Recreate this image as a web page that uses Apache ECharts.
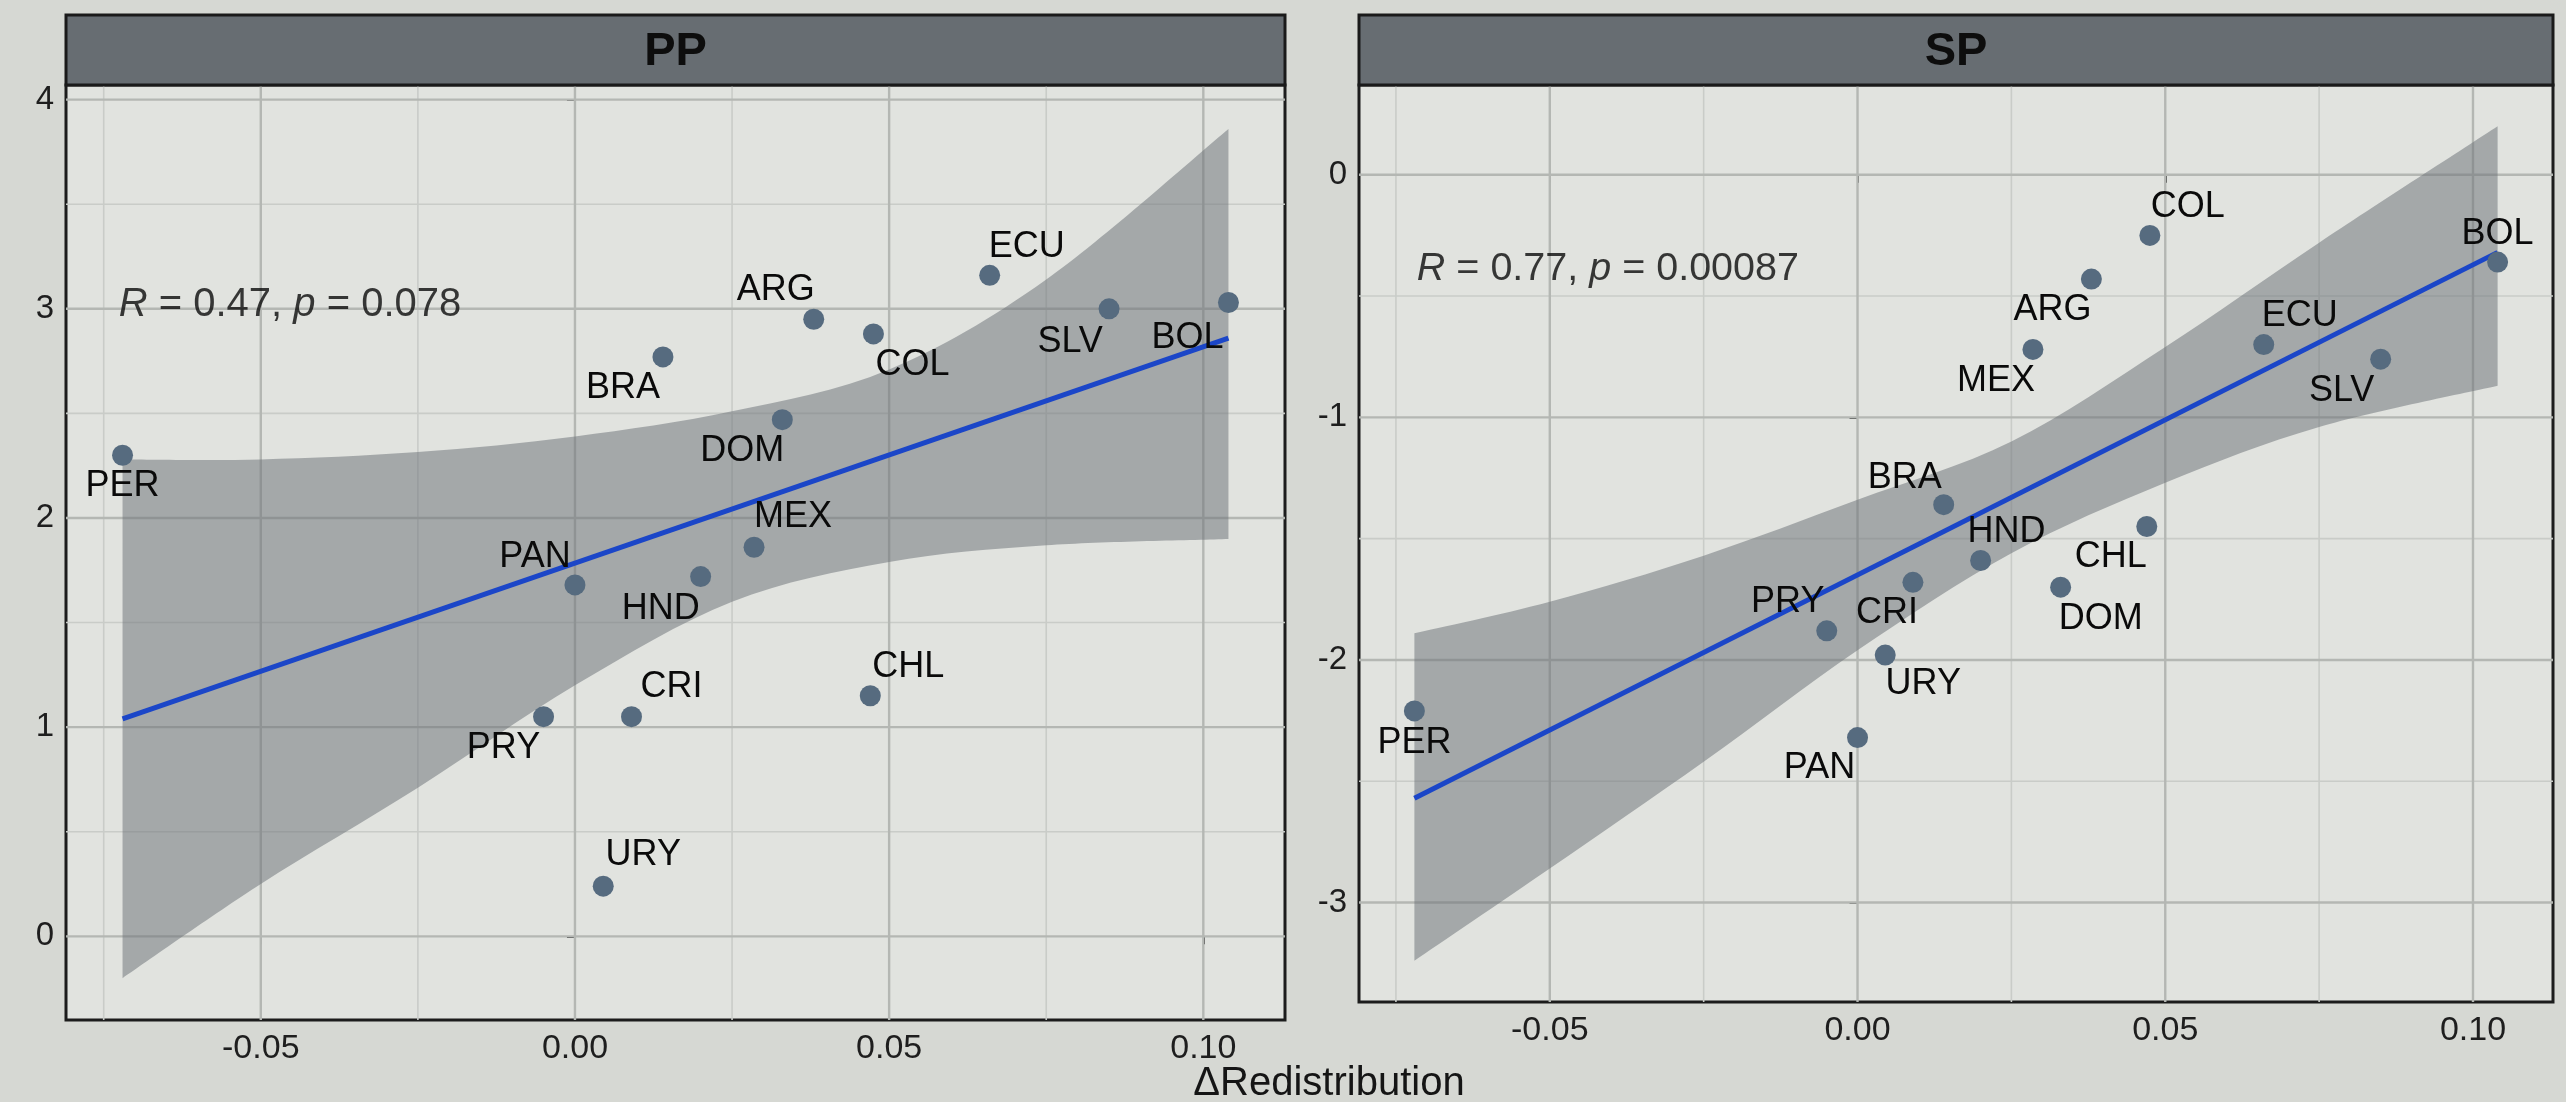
<!DOCTYPE html>
<html>
<head>
<meta charset="utf-8">
<script src="https://cdn.jsdelivr.net/npm/echarts@6/dist/echarts.min.js"></script>
<style>
html,body{margin:0;padding:0;background:#d6d8d3;}
#c{width:2566px;height:1102px;}
</style>
</head>
<body>
<div id="c"></div>
<script>
// ---------------- data ----------------
const countries       = ['PER','PAN','HND','MEX','DOM','BRA','ARG','COL','ECU','SLV','BOL','CHL','CRI','PRY','URY'];
const dRedistribution = [-0.072, 0.000, 0.020, 0.0285, 0.033, 0.014, 0.038, 0.0475, 0.066, 0.085, 0.104, 0.047, 0.009, -0.005, 0.0045];
const ppValues        = [2.30, 1.68, 1.72, 1.86, 2.47, 2.77, 2.95, 2.88, 3.16, 3.00, 3.03, 1.15, 1.05, 1.05, 0.24];
const spValues        = [-2.21, -2.32, -1.59, -0.72, -1.70, -1.36, -0.43, -0.25, -0.70, -0.76, -0.36, -1.45, -1.68, -1.88, -1.98];

// confidence band edges and fitted line, read at these x positions
const bandX   = [-0.072, -0.05, -0.025, 0.000, 0.025, 0.050, 0.075, 0.104];
const ppUpper = [2.28, 2.28, 2.315, 2.39, 2.51, 2.71, 3.14, 3.86];
const ppLower = [-0.20, 0.25, 0.71, 1.20, 1.60, 1.79, 1.87, 1.90];
const spUpper = [-1.89, -1.76, -1.57, -1.34, -1.10, -0.71, -0.28, 0.20];
const spLower = [-3.24, -2.86, -2.42, -1.96, -1.56, -1.27, -1.04, -0.87];
const fitX    = [-0.072, 0.104];
const ppFit   = [1.04, 2.86];
const spFit   = [-2.57, -0.32];

// axis ticks
const xTicks      = [-0.05, 0.00, 0.05, 0.10];
const xMinorTicks = [-0.075, -0.025, 0.025, 0.075];
const ppYTicks    = [0, 1, 2, 3, 4];
const ppYMinor    = [0.5, 1.5, 2.5, 3.5];
const spYTicks    = [-3, -2, -1, 0];
const spYMinor    = [-2.5, -1.5, -0.5];

// panel titles and statistics
const panelNames = ['PP', 'SP'];
const statR      = ['0.47', '0.77'];
const statP      = ['0.078', '0.00087'];
const statAt     = [[-0.0726, 3.02], [-0.0716, -0.39]];
const xTitle     = 'ΔRedistribution';

// ---------------- styles ----------------
const FONT = 'Liberation Sans, Arial, Helvetica, sans-serif';
const labelOffsetPP = {
  PER:[0,31], BRA:[-40,31], ARG:[-38,-29], COL:[39,31], ECU:[37,-28], SLV:[-39,33],
  BOL:[-41,36], DOM:[-40,31], MEX:[39,-30], PAN:[-40,-28], HND:[-40,33], CHL:[38,-29],
  CRI:[40,-30], PRY:[-40,31], URY:[40,-31]
};
const labelOffsetSP = {
  COL:[38,-28], BOL:[0,-28], ARG:[-39,31], MEX:[-37,32], ECU:[36,-28], SLV:[-39,32],
  BRA:[-39,-27], HND:[26,-28], CHL:[-36,31], DOM:[40,32], CRI:[-26,31], PRY:[-39,-29],
  URY:[38,29], PER:[0,32], PAN:[-38,31]
};
const grids = [
  {left: 66,   top: 85, width: 1219, height: 935},
  {left: 1359, top: 85, width: 1194, height: 917}
];
const yRanges = [[-0.40, 4.07], [-3.41, 0.37]];
const xRange = [-0.081, 0.113];
const panelBg = '#e1e3df';
const gridMajor = '#b4b7b3';
const gridMinor = '#c9ccc8';
const statFont = [40, 39.5];

const yTicksAll = [ppYTicks, spYTicks];
const yMinorAll = [ppYMinor, spYMinor];
const valuesAll = [ppValues, spValues];
const upperAll = [ppUpper, spUpper];
const lowerAll = [ppLower, spLower];
const fitAll = [ppFit, spFit];
const offsetsAll = [labelOffsetPP, labelOffsetSP];

// smooth path (Catmull-Rom -> cubic Bezier) through pixel points
function splineSegs(pts) {
  let d = '';
  for (let k = 0; k < pts.length - 1; k++) {
    const p0 = pts[Math.max(k - 1, 0)], p1 = pts[k], p2 = pts[k + 1], p3 = pts[Math.min(k + 2, pts.length - 1)];
    const c1 = [p1[0] + (p2[0] - p0[0]) / 6, p1[1] + (p2[1] - p0[1]) / 6];
    const c2 = [p2[0] - (p3[0] - p1[0]) / 6, p2[1] - (p3[1] - p1[1]) / 6];
    d += ' C' + c1[0] + ' ' + c1[1] + ' ' + c2[0] + ' ' + c2[1] + ' ' + p2[0] + ' ' + p2[1];
  }
  return d;
}

const chart = echarts.init(document.getElementById('c'), null, {renderer: 'canvas'});

const xAxes = [], yAxes = [], series = [];
for (let i = 0; i < 2; i++) {
  xAxes.push({
    type: 'value', gridIndex: i, min: xRange[0], max: xRange[1],
    splitLine: {show: false}, axisLine: {show: false},
    axisTick: {show: true, customValues: xTicks, length: 8, lineStyle: {color: '#333', width: 2}},
    axisLabel: {customValues: xTicks, formatter: v => v.toFixed(2), fontSize: 34, color: '#1e1e1e', margin: 12, fontFamily: FONT}
  });
  yAxes.push({
    type: 'value', gridIndex: i, min: yRanges[i][0], max: yRanges[i][1],
    splitLine: {show: false}, axisLine: {show: false},
    axisTick: {show: true, customValues: yTicksAll[i], length: 8, lineStyle: {color: '#333', width: 2}},
    axisLabel: {customValues: yTicksAll[i], formatter: v => String(v), fontSize: 33, color: '#1e1e1e', margin: 12, fontFamily: FONT}
  });

  // grid lines drawn through the axis scales
  const gl = [];
  xMinorTicks.forEach(v => gl.push([v, 0, 0]));
  yMinorAll[i].forEach(v => gl.push([0, v, 2]));
  xTicks.forEach(v => gl.push([v, 0, 1]));
  yTicksAll[i].forEach(v => gl.push([0, v, 3]));
  series.push({
    type: 'custom', xAxisIndex: i, yAxisIndex: i, z: 1, silent: true,
    data: gl,
    renderItem: (params, api) => {
      const cs = params.coordSys;
      const kind = api.value(2);
      const p = api.coord([api.value(0), api.value(1)]);
      const major = kind === 1 || kind === 3;
      const style = {stroke: major ? gridMajor : gridMinor, lineWidth: major ? 2.4 : 1.6};
      if (kind < 2) {
        return {type: 'line', shape: {x1: p[0], y1: cs.y, x2: p[0], y2: cs.y + cs.height}, style};
      }
      return {type: 'line', shape: {x1: cs.x, y1: p[1], x2: cs.x + cs.width, y2: p[1]}, style};
    }
  });

  // confidence band drawn as a smooth closed path between the read edges
  const up = upperAll[i], lo = lowerAll[i];
  series.push({
    type: 'custom', xAxisIndex: i, yAxisIndex: i, z: 2, silent: true,
    data: [[bandX[0], lo[0]]],
    renderItem: (params, api) => {
      const U = bandX.map((x, k) => api.coord([x, up[k]]));
      const L = bandX.map((x, k) => api.coord([x, lo[k]])).reverse();
      let d = 'M' + U[0][0] + ' ' + U[0][1] + splineSegs(U);
      d += ' L' + L[0][0] + ' ' + L[0][1] + splineSegs(L) + ' Z';
      return {type: 'path', shape: {pathData: d}, style: {fill: 'rgba(110,116,121,0.53)', stroke: null}};
    }
  });

  // fitted line
  series.push({
    type: 'line', xAxisIndex: i, yAxisIndex: i, z: 3, silent: true,
    showSymbol: false, symbol: 'none',
    lineStyle: {color: '#1b46c8', width: 5},
    data: fitX.map((x, k) => [x, fitAll[i][k]])
  });

  // points with country labels
  series.push({
    type: 'scatter', xAxisIndex: i, yAxisIndex: i, z: 4,
    symbolSize: 21,
    itemStyle: {color: '#566b7f', opacity: 1},
    label: {show: true, position: 'inside', formatter: '{b}', fontSize: 36, color: '#0a0a0a', fontFamily: FONT},
    data: countries.map((c, k) => ({
      name: c, value: [dRedistribution[k], valuesAll[i][k]],
      label: {offset: offsetsAll[i][c]}
    }))
  });

  // correlation annotation
  series.push({
    type: 'scatter', xAxisIndex: i, yAxisIndex: i, z: 5, silent: true,
    symbolSize: 0,
    label: {
      show: true, position: 'right', distance: 0,
      formatter: '{i|R}{n| = ' + statR[i] + ', }{i|p}{n| = ' + statP[i] + '}',
      fontSize: statFont[i], color: '#0a0a0a', fontFamily: FONT,
      rich: {
        i: {fontStyle: 'italic', fontSize: statFont[i], color: '#0a0a0a', fontFamily: FONT},
        n: {fontSize: statFont[i], color: '#0a0a0a', fontFamily: FONT}
      }
    },
    data: [statAt[i]]
  });
}

const stripGraphics = [];
for (let i = 0; i < 2; i++) {
  const g = grids[i];
  stripGraphics.push({
    type: 'rect', z: 10,
    shape: {x: g.left, y: 15, width: g.width, height: g.top - 15},
    style: {fill: '#676d72', stroke: '#1a1a1a', lineWidth: 3}
  });
  stripGraphics.push({
    type: 'text', z: 11,
    x: g.left + g.width / 2, y: (15 + g.top) / 2 + 2,
    style: {text: panelNames[i], fontSize: 47, fontWeight: 'bold', fill: '#0d0d0d', fontFamily: FONT,
            align: 'center', verticalAlign: 'middle'}
  });
}
stripGraphics.push({
  type: 'text', z: 11, x: 1329, y: 1084,
  style: {text: xTitle, fontSize: 40, fill: '#151515', fontFamily: FONT, align: 'center', verticalAlign: 'middle'}
});

chart.setOption({
  backgroundColor: '#d6d8d3',
  animation: false,
  grid: grids.map(g => Object.assign({show: true, backgroundColor: panelBg, borderColor: '#1c1c1c', borderWidth: 3, containLabel: false}, g)),
  xAxis: xAxes,
  yAxis: yAxes,
  series: series,
  graphic: stripGraphics
});
</script>
</body>
</html>
